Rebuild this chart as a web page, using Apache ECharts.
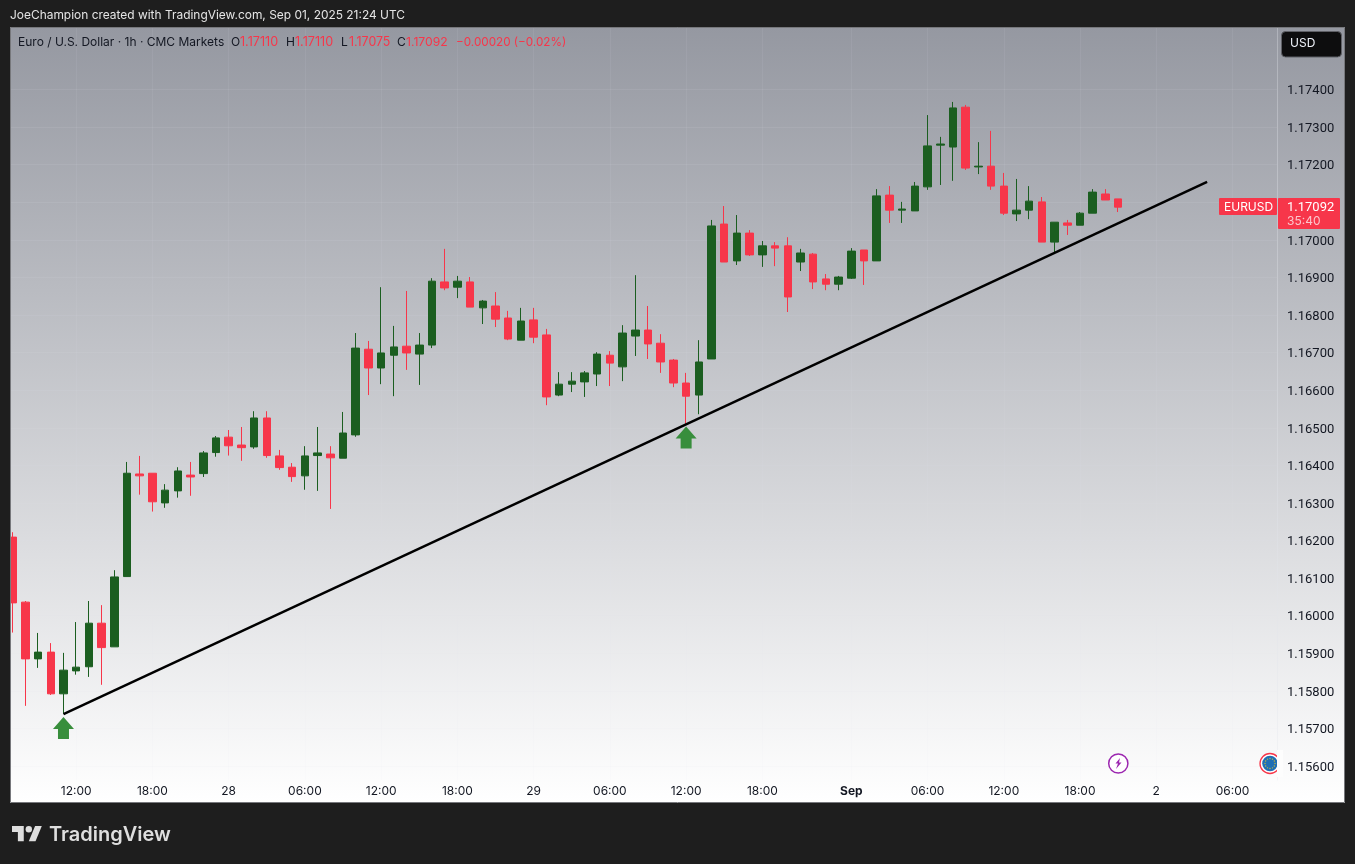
<!DOCTYPE html>
<html>
<head>
<meta charset="utf-8">
<style>html,body{margin:0;padding:0;background:#1e1e1e}#c{width:1355px;height:864px}</style>
<script src="https://cdn.jsdelivr.net/npm/echarts@6/dist/echarts.min.js"></script>
</head>
<body>
<div id="c"></div>
<script>
const categories = ['Aug27 07:00','Aug27 08:00','Aug27 09:00','Aug27 10:00','Aug27 11:00','Aug27 12:00','Aug27 13:00','Aug27 14:00','Aug27 15:00','Aug27 16:00','Aug27 17:00','Aug27 18:00','Aug27 19:00','Aug27 20:00','Aug27 21:00','Aug27 22:00','Aug27 23:00',
'Aug28 00:00','Aug28 01:00','Aug28 02:00','Aug28 03:00','Aug28 04:00','Aug28 05:00','Aug28 06:00','Aug28 07:00','Aug28 08:00','Aug28 09:00','Aug28 10:00','Aug28 11:00','Aug28 12:00','Aug28 13:00','Aug28 14:00','Aug28 15:00','Aug28 16:00','Aug28 17:00','Aug28 18:00','Aug28 19:00','Aug28 20:00','Aug28 21:00','Aug28 22:00','Aug28 23:00',
'Aug29 00:00','Aug29 01:00','Aug29 02:00','Aug29 03:00','Aug29 04:00','Aug29 05:00','Aug29 06:00','Aug29 07:00','Aug29 08:00','Aug29 09:00','Aug29 10:00','Aug29 11:00','Aug29 12:00','Aug29 13:00','Aug29 14:00','Aug29 15:00','Aug29 16:00','Aug29 17:00','Aug29 18:00','Aug29 19:00','Aug29 20:00',
'Aug31 21:00','Aug31 22:00','Aug31 23:00','Aug31 23:30',
'Sep01 00:00','Sep01 01:00','Sep01 02:00','Sep01 03:00','Sep01 04:00','Sep01 05:00','Sep01 06:00','Sep01 07:00','Sep01 08:00','Sep01 09:00','Sep01 10:00','Sep01 11:00','Sep01 12:00','Sep01 13:00','Sep01 14:00','Sep01 15:00','Sep01 16:00','Sep01 17:00','Sep01 18:00','Sep01 19:00','Sep01 20:00','Sep01 21:00','Sep01 22:00','Sep01 23:00',
'Sep02 00:00','Sep02 01:00','Sep02 02:00','Sep02 03:00','Sep02 04:00','Sep02 05:00','Sep02 06:00','Sep02 07:00','Sep02 08:00','Sep02 09:00'];

const opens = [1.16209,1.16036,1.15885,1.15903,1.15792,1.15853,1.15864,1.15980,1.15917,1.16104,
1.16377,1.16379,1.16300,1.16332,1.16374,1.16378,1.16434,1.16475,1.16454,1.16449,
1.16526,1.16425,1.16395,1.16372,1.16426,1.16430,1.16419,1.16481,1.16709,1.16659,
1.16693,1.16717,1.16696,1.16720,1.16888,1.16874,1.16888,1.16819,1.16824,1.16792,
1.16733,1.16787,1.16747,1.16587,1.16616,1.16622,1.16643,1.16693,1.16662,1.16744,
1.16760,1.16725,1.16680,1.16619,1.16587,1.16683,1.17042,1.16944,1.17018,1.16960,
1.16984,1.16984,1.16941,1.16962,1.16896,1.16882,1.16898,1.16973,1.16944,1.17119,
1.17079,1.17077,1.17141,1.17252,1.17247,1.17353,1.17194,1.17196,1.17143,1.17069,
1.17079,1.17101,1.16994,1.17045,1.17039,1.17071,1.17122,1.17109];
const closes = [1.16034,1.15885,1.15903,1.15792,1.15855,1.15863,1.15980,1.15915,1.16103,1.16379,
1.16372,1.16303,1.16334,1.16385,1.16369,1.16433,1.16473,1.16452,1.16447,1.16526,
1.16426,1.16394,1.16370,1.16425,1.16433,1.16420,1.16486,1.16712,1.16659,1.16699,
1.16715,1.16699,1.16720,1.16890,1.16872,1.16890,1.16821,1.16837,1.16789,1.16736,
1.16784,1.16741,1.16582,1.16616,1.16624,1.16646,1.16696,1.16672,1.16752,1.16760,
1.16723,1.16675,1.16619,1.16584,1.16675,1.17037,1.16941,1.17018,1.16960,1.16984,
1.16978,1.16848,1.16965,1.16888,1.16882,1.16901,1.16970,1.16944,1.17117,1.17079,
1.17082,1.17143,1.17250,1.17255,1.17351,1.17191,1.17196,1.17143,1.17071,1.17079,
1.17103,1.16994,1.17047,1.17039,1.17071,1.17127,1.17106,1.17087];
const lows = [1.15955,1.15760,1.15861,1.15789,1.15739,1.15843,1.15837,1.15816,1.15917,1.16104,
1.16322,1.16277,1.16287,1.16314,1.16319,1.16369,1.16423,1.16426,1.16412,1.16444,
1.16420,1.16388,1.16356,1.16335,1.16332,1.16284,1.16419,1.16476,1.16587,1.16616,
1.16584,1.16654,1.16614,1.16712,1.16866,1.16845,1.16821,1.16776,1.16768,1.16733,
1.16733,1.16725,1.16560,1.16584,1.16595,1.16582,1.16611,1.16611,1.16624,1.16691,
1.16683,1.16646,1.16608,1.16510,1.16536,1.16683,1.16941,1.16933,1.16957,1.16928,
1.16930,1.16808,1.16917,1.16869,1.16866,1.16866,1.16896,1.16880,1.16944,1.17045,
1.17045,1.17077,1.17133,1.17146,1.17157,1.17186,1.17175,1.17133,1.17066,1.17050,
1.17055,1.16994,1.16965,1.17013,1.17039,1.17071,1.17106,1.17074];
const highs = [1.16222,1.16039,1.15954,1.15927,1.15901,1.15983,1.16039,1.16028,1.16121,1.16409,
1.16425,1.16379,1.16350,1.16395,1.16409,1.16438,1.16478,1.16494,1.16502,1.16544,
1.16544,1.16441,1.16406,1.16451,1.16502,1.16451,1.16542,1.16752,1.16731,1.16874,
1.16771,1.16864,1.16752,1.16898,1.16976,1.16904,1.16901,1.16840,1.16861,1.16811,
1.16819,1.16819,1.16763,1.16648,1.16648,1.16651,1.16701,1.16704,1.16773,1.16906,
1.16824,1.16749,1.16683,1.16646,1.16733,1.17053,1.17090,1.17066,1.17026,1.16997,
1.16994,1.17007,1.16976,1.16965,1.16909,1.16904,1.16978,1.16973,1.17135,1.17143,
1.17101,1.17154,1.17332,1.17274,1.17367,1.17359,1.17260,1.17290,1.17178,1.17162,
1.17143,1.17114,1.17047,1.17053,1.17074,1.17135,1.17135,1.17109];

const priceTicks = [1.156,1.157,1.158,1.159,1.160,1.161,1.162,1.163,1.164,1.165,1.166,1.167,1.168,1.169,1.170,1.171,1.172,1.173,1.174];
const tickIndexes = [5,11,17,23,29,35,41,47,53,59,66,72,78,84,90,96];
const tickLabels = ['12:00','18:00','28','06:00','12:00','18:00','29','06:00','12:00','18:00','Sep','06:00','12:00','18:00','2','06:00'];
const trendIndexes = [4,94];
const trendPrices = [1.15738,1.17154];
const arrowIndexes = [4,53];
const arrowPrices = [1.15701,1.16474];

const UI = 'Inter, "Noto Sans", sans-serif';
const NUM = 'Roboto, Inter, sans-serif';
const RED = '#f7364a', GREEN = '#1b5e20', INK = '#131722';
const labelByCategory = {};
tickIndexes.forEach((i, k) => { labelByCategory[categories[i]] = tickLabels[k]; });
const isTick = (i) => tickIndexes.includes(i);

function txt(x, y, s, fill, size, extra) {
  return Object.assign({ type: 'text', z: 120, silent: true, style: Object.assign({ x, y, text: s, fill, font: (size || 12) + 'px ' + UI, textVerticalAlign: 'middle' }, extra || {}) });
}

const graphics = [
  { type: 'rect', z: -1, silent: true, shape: { x: 10, y: 27, width: 1335, height: 776 },
    style: { fill: { type: 'linear', x: 0, y: 0, x2: 0, y2: 1, colorStops: [{ offset: 0, color: '#9598a1' }, { offset: 1, color: '#ffffff' }] } } },
  { type: 'rect', z: 110, silent: true, shape: { x: 0, y: 20, width: 10, height: 800 }, style: { fill: '#1e1e1e' } },
  { type: 'rect', z: 110, silent: true, shape: { x: 0, y: 803, width: 1355, height: 61 }, style: { fill: '#1e1e1e' } },
  { type: 'rect', z: 111, silent: true, shape: { x: 10.5, y: 27.5, width: 1334, height: 775 }, style: { fill: 'none', stroke: '#77787c', lineWidth: 1 } },

  txt(10, 15.5, 'JoeChampion created with TradingView.com, Sep 01, 2025 21:24 UTC', '#e4e4e4', 11.95),
  txt(18, 42.5, 'Euro / U.S. Dollar · 1h · CMC Markets', INK, 12),
  txt(231, 42.5, 'O', INK, 12), txt(240, 42.5, '1.17110', RED, 12.6),
  txt(286, 42.5, 'H', INK, 12), txt(295, 42.5, '1.17110', RED, 12.6),
  txt(341, 42.5, 'L', INK, 12), txt(349, 42.5, '1.17075', RED, 12.4),
  txt(397, 42.5, 'C', INK, 12), txt(406, 42.5, '1.17092', RED, 12.2),
  txt(456, 42.5, '−0.00020 (−0.02%)', RED, 11.7),

  { type: 'rect', z: 120, silent: true, shape: { x: 1281.5, y: 31.5, width: 60, height: 25.5, r: 4 }, style: { fill: '#0d0d0e', stroke: '#5f6066', lineWidth: 1 } },
  txt(1290, 43.5, 'USD', '#f0f3fa', 12),

  { type: 'rect', z: 120, silent: true, shape: { x: 1219, y: 198, width: 58, height: 17, r: 1 }, style: { fill: RED } },
  txt(1224, 207, 'EURUSD', '#ffffff', 12),
  { type: 'rect', z: 120, silent: true, shape: { x: 1278, y: 198, width: 62, height: 31, r: 1 }, style: { fill: RED } },
  txt(1287, 207.5, '1.17092', '#ffffff', 13, { font: '13px ' + NUM }),
  txt(1287, 221, '35:40', '#fcc6cc', 12),

  { type: 'polygon', z: 120, silent: true, x: 12, y: 820.2, scaleX: 0.84, scaleY: 0.84,
    shape: { points: [[14,25],[7,25],[7,14],[0,14],[0,7],[14,7]] }, style: { fill: '#dedede' } },
  { type: 'polygon', z: 120, silent: true, x: 12, y: 820.2, scaleX: 0.84, scaleY: 0.84,
    shape: { points: [[28,25],[20,25],[27.5,7],[35.5,7]] }, style: { fill: '#dedede' } },
  { type: 'circle', z: 120, silent: true, shape: { cx: 28.8, cy: 829.2, r: 3.2 }, style: { fill: '#dedede' } },
  txt(49, 834.5, 'TradingView', '#dedede', 20, { font: '600 20px ' + UI }),

  { type: 'circle', z: 120, silent: true, shape: { cx: 1118.3, cy: 763.5, r: 9.6 }, style: { fill: '#ffffff', stroke: '#9c27b0', lineWidth: 1.5 } },
  { type: 'polygon', z: 121, silent: true, x: 1113, y: 758, shape: { points: [[7,0],[2.5,5.5],[5,5.5],[3,11],[8.5,4.5],[6,4.5]] }, style: { fill: '#9c27b0' } },

  { type: 'circle', z: 120, silent: true, shape: { cx: 1270, cy: 763.5, r: 10 }, style: { fill: '#ffffff', stroke: '#f7364a', lineWidth: 1.3 } },
  { type: 'circle', z: 121, silent: true, shape: { cx: 1270, cy: 763.5, r: 7.8 }, style: { fill: '#1f6fb5' } }
];
for (let k = 0; k < 12; k++) {
  const a = k * Math.PI / 6;
  graphics.push({ type: 'circle', z: 122, silent: true, shape: { cx: 1270 + 5 * Math.cos(a), cy: 763.5 + 5 * Math.sin(a), r: 0.7 }, style: { fill: '#c9b83a' } });
}
graphics.push({ type: 'rect', z: 123, silent: true, shape: { x: 1277, y: 750, width: 6, height: 27 }, style: { fill: '#fdfdfd' } });

const chart = echarts.init(document.getElementById('c'));
chart.setOption({
  animation: false,
  backgroundColor: '#1e1e1e',
  textStyle: { fontFamily: UI },
  grid: { left: 6.3, right: 78, top: 28, bottom: 84 },
  graphic: graphics,
  xAxis: {
    type: 'category',
    data: categories,
    boundaryGap: true,
    axisLine: { show: false },
    axisTick: { show: false },
    splitLine: { show: true, alignWithLabel: true, interval: (i) => isTick(i), lineStyle: { color: 'rgba(225,228,236,0.08)', width: 1 } },
    axisLabel: {
      interval: (i) => isTick(i),
      margin: 5,
      hideOverlap: false,
      color: INK, fontSize: 12, fontFamily: UI,
      formatter: (v) => { const s = labelByCategory[v] || ''; return s === 'Sep' ? '{b|Sep}' : s; },
      rich: { b: { fontWeight: 700, color: INK, fontSize: 12, fontFamily: UI } }
    }
  },
  yAxis: {
    type: 'value',
    position: 'right',
    scale: true,
    min: 1.155627,
    max: 1.175637,
    axisLine: { show: true, lineStyle: { color: 'rgba(225,228,236,0.35)', width: 1 } },
    axisTick: { show: false, customValues: priceTicks },
    splitLine: { show: true, lineStyle: { color: 'rgba(225,228,236,0.1)', width: 1 } },
    axisLabel: {
      customValues: priceTicks, margin: 10, color: INK, fontSize: 13, fontFamily: NUM,
      formatter: (v) => '{p|' + v.toFixed(5) + '}',
      rich: { p: { color: INK, fontSize: 13, fontFamily: NUM, padding: [3, 0, 0, 0] } }
    }
  },
  series: [
    {
      type: 'candlestick',
      data: opens.map((o, i) => [o, closes[i], lows[i], highs[i]]),
      barWidth: 8,
      itemStyle: { color: GREEN, color0: RED, borderColor: GREEN, borderColor0: RED, borderWidth: 1 },
      clip: false,
      silent: true,
      z: 3
    },
    {
      type: 'line',
      data: trendIndexes.map((i, k) => [i, trendPrices[k]]),
      symbol: 'none',
      lineStyle: { color: '#000000', width: 2.5 },
      silent: true,
      z: 4
    },
    {
      type: 'scatter',
      data: arrowIndexes.map((i, k) => [i, arrowPrices[k]]),
      symbol: 'path://M10.5 0 L21 12 L16 12 L16 22 L5 22 L5 12 L0 12 Z',
      symbolKeepAspect: false,
      symbolSize: [21, 22],
      itemStyle: { color: '#388e3c', opacity: 1 },
      silent: true,
      z: 4
    }
  ]
});
</script>
</body>
</html>
